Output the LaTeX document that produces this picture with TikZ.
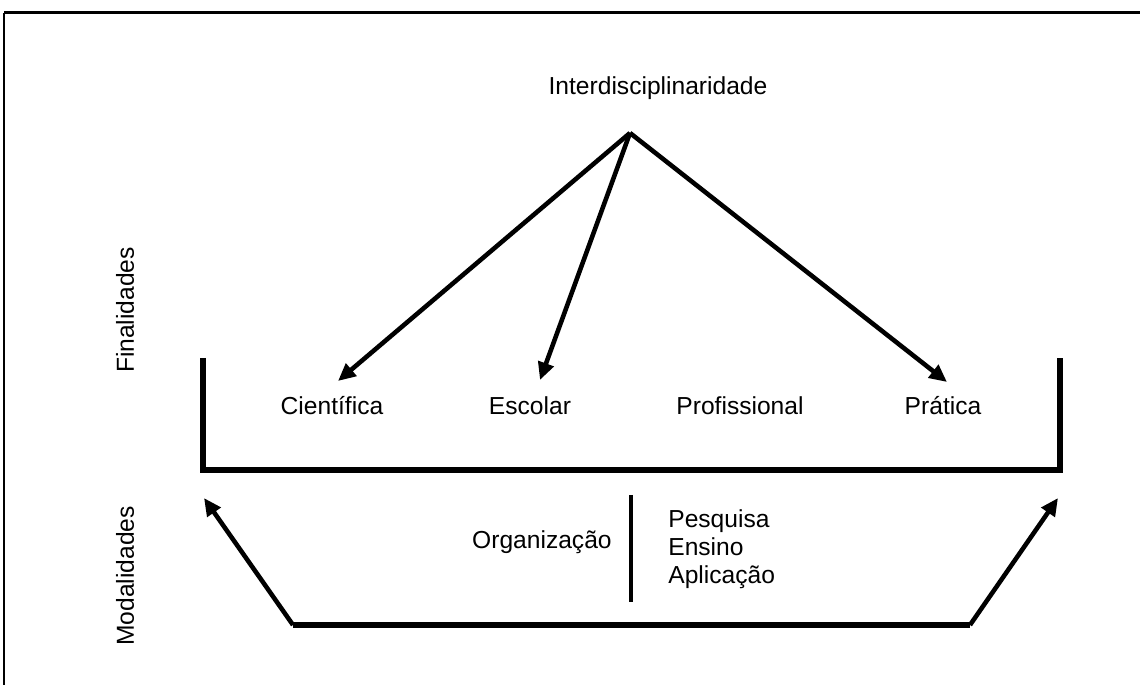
\documentclass[tikz,border=0pt]{standalone}
\usepackage{fontspec}
\setmainfont{Liberation Sans}
\usetikzlibrary{arrows.meta}
\begin{document}
\begin{tikzpicture}[x=0.02cm,y=-0.02cm,
  txt/.style={font=\fontsize{14}{16}\selectfont, inner sep=0pt},
  seta/.style={line width=2.6pt, -{Triangle[length=10pt,width=9pt]}},
  barra/.style={line width=3.2pt}]
\useasboundingbox (0,0) rectangle (1140,685);
\coordinate (q1) at (4,685);
\coordinate (q2) at (4,13);
\coordinate (q3) at (1140,13);
\draw[line width=0.8pt] (q1) -- (q2);
\draw[line width=1.7pt] (q2) -- (q3);

\node[txt] (inter) at (658,88) {Interdisciplinaridade};
\coordinate (topo) at (630,133);
\node[txt] (cient) at (332,406) {Científica};
\node[txt] (escol) at (530,406) {Escolar};
\node[txt] (prof) at (740,406) {Profissional};
\node[txt] (prat) at (943,406) {Prática};
\coordinate (c1) at (338,381);
\coordinate (c2) at (540,380);
\coordinate (c3) at (947,382);
\draw[seta] (topo) -- (c1);
\draw[seta] (topo) -- (c2);
\draw[seta] (topo) -- (c3);

\coordinate (fe1) at (203,358);
\coordinate (fe2) at (203,470);
\coordinate (fd2) at (1060,470);
\coordinate (fd1) at (1060,358);
\draw[barra] (fe1) -- (fe2) -- (fd2) -- (fd1);

\coordinate (be) at (293,625);
\coordinate (bd) at (970,625);
\coordinate (se) at (204,498);
\coordinate (sd) at (1058,498);
\draw[seta] (be) -- (se);
\draw[seta] (bd) -- (sd);
\draw[barra] (be) -- (bd);

\coordinate (m1) at (631,495);
\coordinate (m2) at (631,602);
\draw[line width=2.4pt] (m1) -- (m2);
\node[txt, anchor=east] (org) at (612,542) {Organização};
\node[txt, anchor=west, align=left] (ativ) at (668,549) {Pesquisa\\Ensino\\Aplicação};

\node[txt, rotate=90] (fin) at (125,310) {Finalidades};
\node[txt, rotate=90] (mod) at (125,576) {Modalidades};
\end{tikzpicture}
\end{document}
